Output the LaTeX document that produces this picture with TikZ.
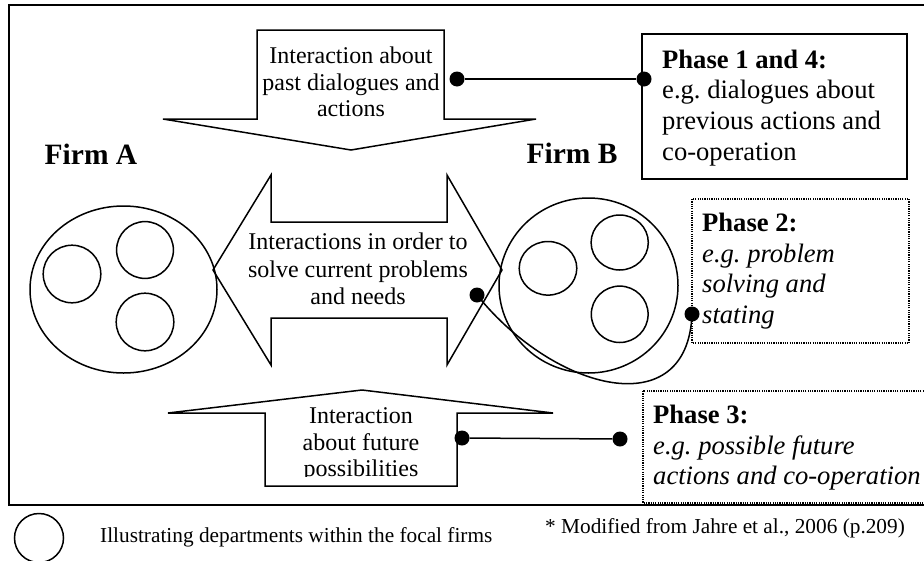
\documentclass[tikz,border=0pt]{standalone}
\usepackage{fontspec}
\setmainfont{Liberation Serif}
\frenchspacing
\begin{document}
\begin{tikzpicture}[x=1pt, y=-1pt,
  outline/.style={draw, line width=1.5pt, line join=miter},
  framebox/.style={draw, line width=2pt},
  dotbox/.style={draw, line width=1.3pt, dash pattern=on 1.2pt off 1.1pt},
  solidbox/.style={draw, line width=1.6pt},
  dotend/.style={circle, fill=black, inner sep=0pt, minimum size=15pt},
  link/.style={line width=1.5pt},
  arrowtext/.style={align=center, inner sep=0pt, font=\fontsize{24}{26.5}\selectfont},
  midtext/.style={align=center, inner sep=0pt, font=\fontsize{24}{27.5}\selectfont},
  phasetext/.style={align=left, inner sep=0pt, anchor=west, font=\fontsize{26.6}{30.6}\selectfont},
  firmlabel/.style={inner sep=0pt, font=\fontsize{29.5}{32}\selectfont\bfseries},
  notetext/.style={inner sep=0pt, anchor=west, font=\fontsize{21.3}{24}\selectfont}]

\clip (0,0) rectangle (924,560);
\fill[white] (0,0) rectangle (924,560);

% outer frame
\draw[framebox] (9,5) rectangle (960,505);

% arrow pointing down: past dialogues
\draw[outline] (257,30) -- (444,30) -- (444,119) -- (536,119) -- (351,150)
  -- (163,119) -- (257,119) -- cycle;
\node[arrowtext] (tTop) at (351,82) {Interaction about\\past dialogues and\\actions};

% double arrow between the firms
\draw[outline] (213,270) -- (271,175) -- (271,222) -- (447,222) -- (447,175)
  -- (502,270) -- (447,365) -- (447,318) -- (271,318) -- (271,365) -- cycle;
\node[midtext] (tMid) at (358,269) {Interactions in order to\\solve current problems\\and needs};

% arrow pointing up: future possibilities (last line cut by the shaft)
\draw[outline] (265,486) -- (265,413) -- (168,413) -- (362,390) -- (553,413)
  -- (457,413) -- (457,486) -- cycle;
\begin{scope}
  \clip (266,395) rectangle (456,476.5);
  \node[arrowtext] (tBot) at (361,445) {Interaction\\about future\\possibilities};
\end{scope}

% firm A with its departments
\node[firmlabel] (firmA) at (91,154) {Firm A};
\draw[outline] (123.5,289.5) ellipse [x radius=93.5pt, y radius=83.5pt];
\draw[outline] (72,274) circle [radius=28.8pt];
\draw[outline] (145,250) circle [radius=28.4pt];
\draw[outline] (145,322) circle [radius=28.8pt];

% firm B with its departments
\node[firmlabel] (firmB) at (572,153) {Firm B};
\draw[outline] (588.5,285.5) ellipse [x radius=89.5pt, y radius=87.5pt];
\draw[outline] (548,268.3) ellipse [x radius=28.8pt, y radius=26.8pt];
\draw[outline] (619.7,242.5) ellipse [x radius=28.6pt, y radius=27.5pt];
\draw[outline] (619.7,314.3) ellipse [x radius=28.4pt, y radius=28.2pt];

% phase boxes
\draw[solidbox] (642,34) rectangle (907,179);
\node[phasetext] (p1) at (662,107.7) {\textbf{Phase 1 and 4:}\\e.g. dialogues about\\previous actions and\\co-operation};

\draw[dotbox] (692,199) rectangle (909,343);
\node[phasetext] (p2) at (702,271) {\textbf{Phase 2:}\\\textit{e.g. problem}\\\textit{solving and}\\\textit{stating}};

\draw[dotbox] (643,391) rectangle (960,503);
\node[phasetext] (p3) at (653,447.7) {\textbf{Phase 3:}\\\textit{e.g. possible future}\\\textit{actions and co-operation}};

% connectors from the arrows to the phase boxes
\node[dotend] (d1a) at (457,79) {};
\node[dotend] (d1b) at (644,79) {};
\draw[link] (d1a) -- (d1b);

\node[dotend] (d2a) at (477,295) {};
\node[dotend] (d2b) at (692,314) {};
\draw[link] (d2a.center) .. controls (555,392) and (688,425) .. (d2b.center);

\node[dotend] (d3a) at (462,438) {};
\node[dotend] (d3b) at (620,439) {};
\draw[link] (d3a) -- (d3b);

% legend and source note
\node[draw, circle, line width=1.5pt, inner sep=0pt, minimum size=49pt] (legend) at (39,538) {};
\node[notetext] (legendtext) at (100,536.8) {Illustrating departments within the focal firms};
\node[notetext] (source) at (545,528) {* Modified from Jahre et al., 2006 (p.209)};

\end{tikzpicture}
\end{document}
